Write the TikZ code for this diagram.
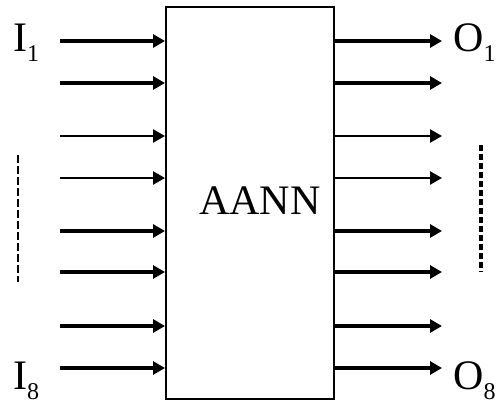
\documentclass[tikz,border=0pt]{standalone}
\usepackage{fontspec}
\setmainfont{Liberation Serif}
\usetikzlibrary{arrows.meta}
\newcommand{\lbl}[2]{#1\raisebox{-10pt}{\fontsize{24}{24}\selectfont #2}}
\begin{document}
\begin{tikzpicture}[x=1pt,y=-1pt,
  thickarrow/.style={line width=4.2pt,-{Triangle[length=12pt,width=13pt]}},
  thinarrow/.style={line width=2.6pt,-{Triangle[length=12pt,width=13pt]}},
  txt/.style={font=\fontsize{42}{42}\selectfont,inner sep=0pt,anchor=base west}]
\useasboundingbox (0,0) rectangle (503,404);
\node[draw,line width=2pt,minimum width=168pt,minimum height=392pt,inner sep=0pt] (box) at (250,203) {};
\node[font=\fontsize{42}{42}\selectfont,inner sep=0pt,anchor=base] (aann) at (260,214) {AANN};
\foreach \i/\y/\s in {1/41/thickarrow,2/83/thickarrow,3/136/thinarrow,4/178/thinarrow,5/231/thickarrow,6/272/thickarrow,7/326/thickarrow,8/368/thickarrow}{
  \coordinate (in\i) at (60,\y);
  \coordinate (out\i) at (442,\y);
  \draw[\s] (in\i) -- (in\i -| box.west);
  \draw[\s] (out\i -| box.east) -- (out\i);
}
\node[txt] (i1) at (13,52) {\lbl{I}{1}};
\node[txt] (i8) at (13,389) {\lbl{I}{8}};
\node[txt] (o1) at (453,52) {\lbl{O}{1}};
\node[txt] (o8) at (453,389) {\lbl{O}{8}};
\coordinate (dl1) at (18,155);
\coordinate (dl2) at (18,282);
\coordinate (dr1) at (481,145);
\coordinate (dr2) at (481,272);
\draw[line width=1.8pt,dash pattern=on 8pt off 3pt] (dl1) -- (dl2);
\draw[line width=4pt,dash pattern=on 6pt off 3pt] (dr1) -- (dr2);
\end{tikzpicture}
\end{document}
